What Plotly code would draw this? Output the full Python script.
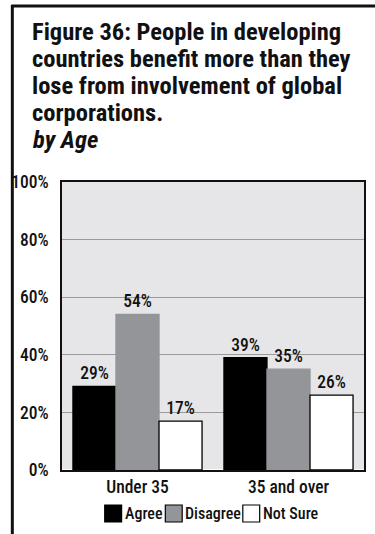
import plotly.graph_objects as go

categories = ["Under 35", "35 and over"]
series_names = ["Agree", "Disagree", "Not Sure"]
agree = [29, 39]
disagree = [54, 35]
not_sure = [17, 26]
colors = ["#000000", "#939598", "#ffffff"]
outline_colors = ["#000000", "#939598", "#000000"]
y_ticks = [0, 20, 40, 60, 80, 100]
y_tick_labels = ["0%", "20%", "40%", "60%", "80%", "100%"]

title_lines = [
    "<b>Figure 36: People in developing</b>",
    "<b>countries benefit more than they</b>",
    "<b>lose from involvement of global</b>",
    "<b>corporations.</b>",
    "<b><i>by Age</i></b>",
]

FONT = "Roboto Condensed, DejaVu Sans Condensed, sans-serif"
TXT = dict(family=FONT, size=17.5, color="#111111", weight=500)
LEG = dict(family=FONT, size=16, color="#111111", weight=500)
W, H = 375, 534
L, R, T, B = 62, 9, 182, 64
PW, PH = W - L - R, H - T - B

def px_x(x):
    return (x - L) / PW

def px_y(y):
    return (H - B - y) / PH

fig = go.Figure()
for name, vals, col, oc in zip(series_names, [agree, disagree, not_sure], colors, outline_colors):
    fig.add_trace(go.Bar(
        x=categories, y=vals, name=name,
        marker=dict(color=col, line=dict(color=oc, width=1.3)),
        text=[f"{v}%" for v in vals], textposition="outside",
        textfont=TXT,
        cliponaxis=False, showlegend=False,
    ))

fig.update_layout(
    width=W, height=H,
    margin=dict(l=L, r=R, t=T, b=B),
    paper_bgcolor="#ffffff", plot_bgcolor="#e6e6e8",
    barmode="group", bargap=0.145, bargroupgap=0,
    font=dict(family=FONT, color="#111111"),
    xaxis=dict(showline=True, linecolor="#111111", linewidth=1.5, mirror=True,
               tickfont=TXT, ticks="", ticklabelstandoff=0, fixedrange=True),
    yaxis=dict(range=[0, 100], tickvals=y_ticks, ticktext=y_tick_labels,
               showline=True, linecolor="#111111", linewidth=1.5, mirror=True,
               gridcolor="#9a9a9a", gridwidth=1.2,
               tickfont=TXT, ticks="", ticklabelstandoff=8, fixedrange=True),
)

# title, one annotation per line for tight line spacing
for i, line in enumerate(title_lines):
    baseline = 39 + 27 * i
    fig.add_annotation(
        text=line, xref="paper", yref="paper", x=px_x(30), y=px_y(baseline - 8),
        xanchor="left", yanchor="middle", align="left", showarrow=False,
        font=dict(family=FONT, size=24.5, color="#111111"),
    )

# outer frame (left and top)
fig.add_shape(type="line", xref="paper", yref="paper",
              x0=px_x(12), x1=px_x(12), y0=px_y(5), y1=px_y(H + 5),
              line=dict(color="#111111", width=3))
fig.add_shape(type="line", xref="paper", yref="paper",
              x0=px_x(11), x1=px_x(W + 5), y0=px_y(6), y1=px_y(6),
              line=dict(color="#111111", width=3))

# custom legend
legend_items = [(105, "Agree"), (166, "Disagree"), (244, "Not Sure")]
for (x0, name), col in zip(legend_items, colors):
    fig.add_shape(type="rect", xref="paper", yref="paper",
                  x0=px_x(x0), x1=px_x(x0 + 17), y0=px_y(522), y1=px_y(505),
                  fillcolor=col, line=dict(color="#000000", width=1.2))
    fig.add_annotation(text=name, xref="paper", yref="paper",
                       x=px_x(x0 + 18), y=px_y(513), xanchor="left", yanchor="middle",
                       showarrow=False, font=LEG)

fig.write_html("out.html", config={"displayModeBar": False},
               post_script="document.body.style.margin='0';")
